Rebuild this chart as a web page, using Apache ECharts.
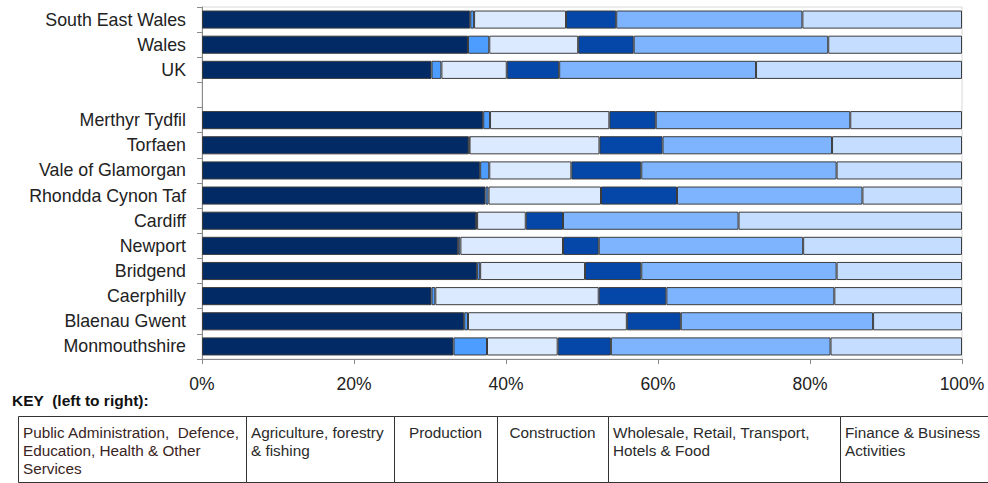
<!DOCTYPE html>
<html>
<head>
<meta charset="utf-8">
<script src="https://cdn.jsdelivr.net/npm/echarts@6/dist/echarts.min.js"></script>
<style>
  html, body { margin: 0; padding: 0; background: #fff; }
  #chart { width: 988px; height: 483px; }
</style>
</head>
<body>
<div id="chart"></div>
<script>
// Employment by broad industry sector, share of jobs (%), by area
const areas = ['South East Wales', 'Wales', 'UK', '', 'Merthyr Tydfil', 'Torfaen',
  'Vale of Glamorgan', 'Rhondda Cynon Taf', 'Cardiff', 'Newport', 'Bridgend',
  'Caerphilly', 'Blaenau Gwent', 'Monmouthshire'];

const publicAdmin  = [35.3, 35.0, 30.2, null, 37.0, 35.1, 36.6, 37.3, 36.1, 33.7, 36.2, 30.2, 34.5, 33.1];
const agriculture  = [0.5, 2.8, 1.3, null, 0.9, 0.1, 1.2, 0.4, 0.1, 0.3, 0.4, 0.5, 0.5, 4.4];
const production   = [12.1, 11.7, 8.6, null, 15.7, 17.1, 10.8, 14.8, 6.4, 13.5, 13.8, 21.5, 20.9, 9.3];
const construction = [6.6, 7.3, 6.9, null, 6.1, 8.3, 9.2, 10.0, 4.9, 4.7, 7.4, 8.9, 7.1, 7.0];
const wholesale    = [24.5, 25.6, 25.9, null, 25.6, 22.3, 25.7, 24.4, 23.1, 26.9, 25.7, 22.1, 25.3, 28.9];
const finance      = [21.0, 17.6, 27.1, null, 14.7, 17.1, 16.5, 13.1, 29.4, 20.9, 16.5, 16.8, 11.7, 17.3];

const xTicks = [0, 20, 40, 60, 80, 100];

// Key captions, left to right (same order as the stacked segments)
const keyLabels = [
  'Public Administration,  Defence,\nEducation, Health & Other\nServices',
  'Agriculture, forestry\n& fishing',
  'Production',
  'Construction',
  'Wholesale, Retail, Transport,\nHotels & Food',
  'Finance & Business\nActivities'
];
const seriesNames = ['Public Administration, Defence, Education, Health & Other Services',
  'Agriculture, forestry & fishing', 'Production', 'Construction',
  'Wholesale, Retail, Transport, Hotels & Food', 'Finance & Business Activities'];
const seriesValues = [publicAdmin, agriculture, production, construction, wholesale, finance];
const colors = ['#022b66', '#4d9cff', '#dceaff', '#0447a8', '#7db4fd', '#c5ddfe'];

const FONT = "'Liberation Sans', Arial, sans-serif";

// Key table layout
const keyEdges = [18, 246, 394, 497, 608, 840, 996];
const keyTop = 416, keyBottom = 482;
const keyAlign = ['left', 'left', 'center', 'center', 'left', 'left'];

const graphics = [{
  type: 'text', left: 12, top: 392,
  style: { text: 'KEY  (left to right):', font: 'bold 15.5px ' + FONT, fill: '#111' }
}];
keyLabels.forEach((label, i) => {
  const x0 = keyEdges[i], x1 = keyEdges[i + 1];
  graphics.push({
    type: 'rect',
    shape: { x: x0 + 0.5, y: keyTop + 0.5, width: x1 - x0, height: keyBottom - keyTop },
    style: { fill: '#fff', stroke: '#333', lineWidth: 1 }
  });
  const centered = keyAlign[i] === 'center';
  graphics.push({
    type: 'text',
    x: centered ? (x0 + x1) / 2 : x0 + 5,
    y: keyTop + 7.5,
    style: {
      text: label, fontSize: 15.3, fontFamily: FONT, fill: i === 0 ? '#3a2424' : '#2a2a2a',
      align: keyAlign[i], verticalAlign: 'top', lineHeight: 17.8
    }
  });
});

const chart = echarts.init(document.getElementById('chart'), null, { renderer: 'svg' });
chart.setOption({
  animation: false,
  grid: {
    left: 202, right: 26, top: 7, bottom: 124,
    show: true, borderColor: '#d8d8d8', borderWidth: 1, backgroundColor: 'transparent'
  },
  xAxis: {
    type: 'value', min: 0, max: 100, interval: 20,
    axisLine: { show: true, lineStyle: { color: '#8a8a8a', width: 1 } },
    axisTick: { show: true, length: 5, lineStyle: { color: '#8a8a8a' } },
    splitLine: { show: false },
    axisLabel: {
      formatter: v => xTicks.includes(v) ? v + '%' : '',
      fontSize: 17.5, fontFamily: FONT, color: '#222', margin: 16
    }
  },
  yAxis: {
    type: 'category', data: areas, inverse: true,
    axisLine: { show: true, lineStyle: { color: '#8a8a8a', width: 1 } },
    axisTick: { show: true, length: 5, lineStyle: { color: '#8a8a8a' } },
    axisLabel: { fontSize: 17.8, fontFamily: FONT, color: '#222', margin: 16 }
  },
  graphic: graphics,
  series: seriesValues.map((vals, i) => ({
    name: seriesNames[i],
    type: 'bar',
    stack: 'share',
    data: vals,
    barCategoryGap: '28%',
    itemStyle: { color: colors[i], borderColor: '#3c3c3c', borderWidth: 1 }
  }))
});
</script>
</body>
</html>
